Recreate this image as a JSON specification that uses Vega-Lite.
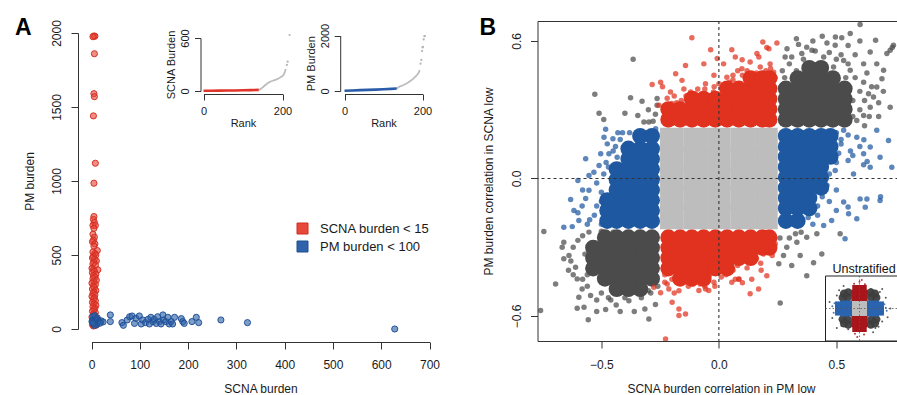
{
"$schema":"https://vega.github.io/schema/vega-lite/v6.json",
"padding":{"left":15,"top":16,"right":0,"bottom":0},
"bounds":"flush",
"spacing":94.5,
"config":{
 "font":"Liberation Sans",
 "view":{"stroke":null},
 "axis":{"grid":false,"labelFlush":false,"labelOverlap":false,"labelFontSize":12,"titleFontSize":12,"titleFontWeight":"normal","labelColor":"#1a1a1a","titleColor":"#1a1a1a","tickColor":"#333","domainColor":"#333","tickSize":7,"domainWidth":1,"tickWidth":1}
},
"datasets":{
 "burden":[
  {"scna":5,"pm":1980,"grp":"SCNA burden < 15"},{"scna":7,"pm":1978,"grp":"SCNA burden < 15"},{"scna":3,"pm":1975,"grp":"SCNA burden < 15"},{"scna":6,"pm":1860,"grp":"SCNA burden < 15"},{"scna":5,"pm":1590,"grp":"SCNA burden < 15"},{"scna":6,"pm":1570,"grp":"SCNA burden < 15"},{"scna":4,"pm":1440,"grp":"SCNA burden < 15"},{"scna":8,"pm":1120,"grp":"SCNA burden < 15"},{"scna":5,"pm":985,"grp":"SCNA burden < 15"},
  {"scna":5,"pm":760,"grp":"SCNA burden < 15"},{"scna":4,"pm":740,"grp":"SCNA burden < 15"},{"scna":6,"pm":720,"grp":"SCNA burden < 15"},{"scna":3,"pm":700,"grp":"SCNA burden < 15"},{"scna":8,"pm":700,"grp":"SCNA burden < 15"},{"scna":5,"pm":680,"grp":"SCNA burden < 15"},{"scna":3,"pm":640,"grp":"SCNA burden < 15"},{"scna":6,"pm":620,"grp":"SCNA burden < 15"},{"scna":4,"pm":600,"grp":"SCNA burden < 15"},{"scna":2,"pm":590,"grp":"SCNA burden < 15"},{"scna":7,"pm":575,"grp":"SCNA burden < 15"},{"scna":5,"pm":560,"grp":"SCNA burden < 15"},{"scna":12,"pm":530,"grp":"SCNA burden < 15"},{"scna":3,"pm":520,"grp":"SCNA burden < 15"},{"scna":7,"pm":510,"grp":"SCNA burden < 15"},{"scna":9,"pm":500,"grp":"SCNA burden < 15"},{"scna":4,"pm":490,"grp":"SCNA burden < 15"},{"scna":2,"pm":480,"grp":"SCNA burden < 15"},{"scna":6,"pm":470,"grp":"SCNA burden < 15"},{"scna":10,"pm":460,"grp":"SCNA burden < 15"},{"scna":5,"pm":450,"grp":"SCNA burden < 15"},{"scna":3,"pm":440,"grp":"SCNA burden < 15"},{"scna":8,"pm":430,"grp":"SCNA burden < 15"},{"scna":1,"pm":410,"grp":"SCNA burden < 15"},{"scna":4,"pm":400,"grp":"SCNA burden < 15"},{"scna":13,"pm":400,"grp":"SCNA burden < 15"},{"scna":6,"pm":390,"grp":"SCNA burden < 15"},{"scna":2,"pm":380,"grp":"SCNA burden < 15"},{"scna":9,"pm":370,"grp":"SCNA burden < 15"},{"scna":4,"pm":360,"grp":"SCNA burden < 15"},{"scna":7,"pm":350,"grp":"SCNA burden < 15"},{"scna":3,"pm":340,"grp":"SCNA burden < 15"},{"scna":10,"pm":330,"grp":"SCNA burden < 15"},{"scna":5,"pm":320,"grp":"SCNA burden < 15"},{"scna":1,"pm":310,"grp":"SCNA burden < 15"},{"scna":8,"pm":300,"grp":"SCNA burden < 15"},{"scna":4,"pm":290,"grp":"SCNA burden < 15"},{"scna":6,"pm":280,"grp":"SCNA burden < 15"},{"scna":2,"pm":270,"grp":"SCNA burden < 15"},{"scna":9,"pm":260,"grp":"SCNA burden < 15"},{"scna":5,"pm":250,"grp":"SCNA burden < 15"},{"scna":3,"pm":240,"grp":"SCNA burden < 15"},{"scna":7,"pm":230,"grp":"SCNA burden < 15"},{"scna":1,"pm":220,"grp":"SCNA burden < 15"},{"scna":6,"pm":210,"grp":"SCNA burden < 15"},{"scna":4,"pm":200,"grp":"SCNA burden < 15"},{"scna":8,"pm":190,"grp":"SCNA burden < 15"},{"scna":2,"pm":180,"grp":"SCNA burden < 15"},{"scna":5,"pm":170,"grp":"SCNA burden < 15"},{"scna":9,"pm":160,"grp":"SCNA burden < 15"},{"scna":3,"pm":150,"grp":"SCNA burden < 15"},{"scna":7,"pm":140,"grp":"SCNA burden < 15"},{"scna":5,"pm":130,"grp":"SCNA burden < 15"},{"scna":2,"pm":120,"grp":"SCNA burden < 15"},{"scna":8,"pm":110,"grp":"SCNA burden < 15"},{"scna":4,"pm":100,"grp":"SCNA burden < 15"},{"scna":6,"pm":90,"grp":"SCNA burden < 15"},{"scna":1,"pm":80,"grp":"SCNA burden < 15"},{"scna":10,"pm":70,"grp":"SCNA burden < 15"},{"scna":3,"pm":60,"grp":"SCNA burden < 15"},{"scna":7,"pm":50,"grp":"SCNA burden < 15"},{"scna":5,"pm":40,"grp":"SCNA burden < 15"},{"scna":2,"pm":30,"grp":"SCNA burden < 15"},{"scna":9,"pm":25,"grp":"SCNA burden < 15"},{"scna":4,"pm":20,"grp":"SCNA burden < 15"},{"scna":11,"pm":35,"grp":"SCNA burden < 15"},
  {"scna":2,"pm":60,"grp":"PM burden < 100"},{"scna":4,"pm":45,"grp":"PM burden < 100"},{"scna":6,"pm":70,"grp":"PM burden < 100"},{"scna":8,"pm":55,"grp":"PM burden < 100"},{"scna":3,"pm":85,"grp":"PM burden < 100"},{"scna":5,"pm":35,"grp":"PM burden < 100"},{"scna":7,"pm":90,"grp":"PM burden < 100"},{"scna":9,"pm":40,"grp":"PM burden < 100"},{"scna":1,"pm":50,"grp":"PM burden < 100"},{"scna":10,"pm":65,"grp":"PM burden < 100"},{"scna":12,"pm":75,"grp":"PM burden < 100"},{"scna":14,"pm":45,"grp":"PM burden < 100"},{"scna":11,"pm":30,"grp":"PM burden < 100"},{"scna":6,"pm":25,"grp":"PM burden < 100"},{"scna":3,"pm":40,"grp":"PM burden < 100"},{"scna":13,"pm":60,"grp":"PM burden < 100"},{"scna":16,"pm":50,"grp":"PM burden < 100"},{"scna":20,"pm":55,"grp":"PM burden < 100"},{"scna":24,"pm":48,"grp":"PM burden < 100"},{"scna":18,"pm":40,"grp":"PM burden < 100"},
  {"scna":39,"pm":95,"grp":"PM burden < 100"},{"scna":39,"pm":50,"grp":"PM burden < 100"},{"scna":63,"pm":43,"grp":"PM burden < 100"},{"scna":66,"pm":25,"grp":"PM burden < 100"},{"scna":74,"pm":61,"grp":"PM burden < 100"},{"scna":79,"pm":83,"grp":"PM burden < 100"},{"scna":84,"pm":88,"grp":"PM burden < 100"},{"scna":89,"pm":38,"grp":"PM burden < 100"},{"scna":92,"pm":72,"grp":"PM burden < 100"},{"scna":99,"pm":88,"grp":"PM burden < 100"},{"scna":103,"pm":34,"grp":"PM burden < 100"},{"scna":106,"pm":61,"grp":"PM burden < 100"},{"scna":112,"pm":43,"grp":"PM burden < 100"},{"scna":117,"pm":65,"grp":"PM burden < 100"},{"scna":120,"pm":34,"grp":"PM burden < 100"},{"scna":123,"pm":79,"grp":"PM burden < 100"},{"scna":127,"pm":50,"grp":"PM burden < 100"},{"scna":130,"pm":65,"grp":"PM burden < 100"},{"scna":134,"pm":38,"grp":"PM burden < 100"},{"scna":137,"pm":83,"grp":"PM burden < 100"},{"scna":141,"pm":50,"grp":"PM burden < 100"},{"scna":144,"pm":34,"grp":"PM burden < 100"},{"scna":148,"pm":95,"grp":"PM burden < 100"},{"scna":149,"pm":61,"grp":"PM burden < 100"},{"scna":154,"pm":50,"grp":"PM burden < 100"},{"scna":158,"pm":79,"grp":"PM burden < 100"},{"scna":161,"pm":34,"grp":"PM burden < 100"},{"scna":165,"pm":50,"grp":"PM burden < 100"},{"scna":168,"pm":34,"grp":"PM burden < 100"},{"scna":172,"pm":79,"grp":"PM burden < 100"},{"scna":186,"pm":70,"grp":"PM burden < 100"},{"scna":189,"pm":50,"grp":"PM burden < 100"},{"scna":192,"pm":38,"grp":"PM burden < 100"},{"scna":208,"pm":50,"grp":"PM burden < 100"},{"scna":217,"pm":79,"grp":"PM burden < 100"},{"scna":222,"pm":43,"grp":"PM burden < 100"},{"scna":268,"pm":61,"grp":"PM burden < 100"},{"scna":323,"pm":43,"grp":"PM burden < 100"},{"scna":628,"pm":0,"grp":"PM burden < 100"}
 ],
 "ins1":[
  {"rank":0,"val":2,"part":"low"},{"rank":20,"val":3,"part":"low"},{"rank":40,"val":4,"part":"low"},{"rank":60,"val":5,"part":"low"},{"rank":80,"val":6,"part":"low"},{"rank":100,"val":8,"part":"low"},{"rank":120,"val":10,"part":"low"},{"rank":140,"val":13,"part":"low"},
  {"rank":140,"val":13,"part":"high"},{"rank":143,"val":18,"part":"high"},{"rank":147,"val":30,"part":"high"},{"rank":151,"val":45,"part":"high"},{"rank":155,"val":62,"part":"high"},{"rank":160,"val":80,"part":"high"},{"rank":165,"val":95,"part":"high"},{"rank":170,"val":108,"part":"high"},{"rank":175,"val":116,"part":"high"},{"rank":180,"val":124,"part":"high"},{"rank":185,"val":131,"part":"high"},{"rank":190,"val":142,"part":"high"},{"rank":195,"val":155,"part":"high"},{"rank":200,"val":170,"part":"high"},{"rank":203,"val":185,"part":"high"},{"rank":206,"val":215,"part":"high"},{"rank":208,"val":250,"part":"high"},
  {"rank":211,"val":295,"part":"tail"},{"rank":213,"val":332,"part":"tail"},{"rank":218,"val":634,"part":"tail"}
 ],
 "ins2":[
  {"rank":0,"val":10,"part":"low"},{"rank":20,"val":20,"part":"low"},{"rank":40,"val":30,"part":"low"},{"rank":60,"val":40,"part":"low"},{"rank":80,"val":50,"part":"low"},{"rank":100,"val":62,"part":"low"},{"rank":120,"val":75,"part":"low"},{"rank":134,"val":88,"part":"low"},
  {"rank":134,"val":88,"part":"high"},{"rank":137,"val":120,"part":"high"},{"rank":141,"val":160,"part":"high"},{"rank":150,"val":207,"part":"high"},{"rank":159,"val":268,"part":"high"},{"rank":167,"val":341,"part":"high"},{"rank":176,"val":437,"part":"high"},{"rank":185,"val":560,"part":"high"},{"rank":190,"val":655,"part":"high"},{"rank":193,"val":753,"part":"high"},
  {"rank":195,"val":985,"part":"tail"},{"rank":197,"val":1120,"part":"tail"},{"rank":199,"val":1440,"part":"tail"},{"rank":200,"val":1570,"part":"tail"},{"rank":201,"val":1590,"part":"tail"},{"rank":203,"val":1860,"part":"tail"},{"rank":205,"val":1975,"part":"tail"},{"rank":206,"val":1980,"part":"tail"}
 ],
 "bcore":[
  {"x":-0.2,"y":-0.17,"c":"g"},{"x":-0.1,"y":-0.17,"c":"g"},{"x":0,"y":-0.17,"c":"g"},{"x":0.1,"y":-0.17,"c":"g"},{"x":0.2,"y":-0.17,"c":"g"},
  {"x":-0.2,"y":-0.085,"c":"g"},{"x":-0.1,"y":-0.085,"c":"g"},{"x":0,"y":-0.085,"c":"g"},{"x":0.1,"y":-0.085,"c":"g"},{"x":0.2,"y":-0.085,"c":"g"},
  {"x":-0.2,"y":0,"c":"g"},{"x":-0.1,"y":0,"c":"g"},{"x":0,"y":0,"c":"g"},{"x":0.1,"y":0,"c":"g"},{"x":0.2,"y":0,"c":"g"},
  {"x":-0.2,"y":0.085,"c":"g"},{"x":-0.1,"y":0.085,"c":"g"},{"x":0,"y":0.085,"c":"g"},{"x":0.1,"y":0.085,"c":"g"},{"x":0.2,"y":0.085,"c":"g"},
  {"x":-0.2,"y":0.17,"c":"g"},{"x":-0.1,"y":0.17,"c":"g"},{"x":0,"y":0.17,"c":"g"},{"x":0.1,"y":0.17,"c":"g"},{"x":0.2,"y":0.17,"c":"g"},
  {"x":-0.285,"y":-0.185,"c":"b"},{"x":-0.335,"y":-0.185,"c":"b"},{"x":-0.385,"y":-0.185,"c":"b"},{"x":-0.435,"y":-0.185,"c":"b"},{"x":-0.475,"y":-0.185,"c":"b"},
  {"x":-0.285,"y":-0.14,"c":"b"},{"x":-0.335,"y":-0.14,"c":"b"},{"x":-0.385,"y":-0.14,"c":"b"},{"x":-0.435,"y":-0.14,"c":"b"},{"x":-0.475,"y":-0.14,"c":"b"},
  {"x":-0.285,"y":-0.095,"c":"b"},{"x":-0.335,"y":-0.095,"c":"b"},{"x":-0.385,"y":-0.095,"c":"b"},{"x":-0.435,"y":-0.095,"c":"b"},{"x":-0.475,"y":-0.095,"c":"b"},
  {"x":-0.285,"y":-0.05,"c":"b"},{"x":-0.335,"y":-0.05,"c":"b"},{"x":-0.385,"y":-0.05,"c":"b"},{"x":-0.435,"y":-0.05,"c":"b"},
  {"x":-0.285,"y":-0.005,"c":"b"},{"x":-0.335,"y":-0.005,"c":"b"},{"x":-0.385,"y":-0.005,"c":"b"},{"x":-0.435,"y":-0.005,"c":"b"},
  {"x":-0.285,"y":0.04,"c":"b"},{"x":-0.335,"y":0.04,"c":"b"},{"x":-0.385,"y":0.04,"c":"b"},{"x":-0.435,"y":0.04,"c":"b"},
  {"x":-0.285,"y":0.085,"c":"b"},{"x":-0.335,"y":0.085,"c":"b"},{"x":-0.385,"y":0.085,"c":"b"},
  {"x":-0.285,"y":0.13,"c":"b"},{"x":-0.335,"y":0.13,"c":"b"},{"x":-0.385,"y":0.13,"c":"b"},
  {"x":-0.285,"y":0.185,"c":"b"},{"x":-0.335,"y":0.185,"c":"b"},
  {"x":0.285,"y":0.185,"c":"b"},{"x":0.335,"y":0.185,"c":"b"},{"x":0.385,"y":0.185,"c":"b"},{"x":0.435,"y":0.185,"c":"b"},{"x":0.475,"y":0.185,"c":"b"},
  {"x":0.285,"y":0.14,"c":"b"},{"x":0.335,"y":0.14,"c":"b"},{"x":0.385,"y":0.14,"c":"b"},{"x":0.435,"y":0.14,"c":"b"},{"x":0.475,"y":0.14,"c":"b"},
  {"x":0.285,"y":0.095,"c":"b"},{"x":0.335,"y":0.095,"c":"b"},{"x":0.385,"y":0.095,"c":"b"},{"x":0.435,"y":0.095,"c":"b"},{"x":0.475,"y":0.095,"c":"b"},
  {"x":0.285,"y":0.05,"c":"b"},{"x":0.335,"y":0.05,"c":"b"},{"x":0.385,"y":0.05,"c":"b"},{"x":0.435,"y":0.05,"c":"b"},
  {"x":0.285,"y":0.005,"c":"b"},{"x":0.335,"y":0.005,"c":"b"},{"x":0.385,"y":0.005,"c":"b"},{"x":0.435,"y":0.005,"c":"b"},
  {"x":0.285,"y":-0.04,"c":"b"},{"x":0.335,"y":-0.04,"c":"b"},{"x":0.385,"y":-0.04,"c":"b"},{"x":0.435,"y":-0.04,"c":"b"},
  {"x":0.285,"y":-0.085,"c":"b"},{"x":0.335,"y":-0.085,"c":"b"},{"x":0.385,"y":-0.085,"c":"b"},
  {"x":0.285,"y":-0.13,"c":"b"},{"x":0.335,"y":-0.13,"c":"b"},{"x":0.385,"y":-0.13,"c":"b"},
  {"x":0.285,"y":-0.185,"c":"b"},{"x":0.335,"y":-0.185,"c":"b"},
  {"x":-0.215,"y":0.257,"c":"r"},{"x":-0.165,"y":0.257,"c":"r"},{"x":-0.115,"y":0.257,"c":"r"},{"x":-0.065,"y":0.257,"c":"r"},{"x":-0.015,"y":0.257,"c":"r"},{"x":0.035,"y":0.257,"c":"r"},{"x":0.085,"y":0.257,"c":"r"},{"x":0.135,"y":0.257,"c":"r"},{"x":0.185,"y":0.257,"c":"r"},{"x":0.215,"y":0.257,"c":"r"},
  {"x":-0.215,"y":0.302,"c":"r"},{"x":-0.165,"y":0.302,"c":"r"},{"x":-0.115,"y":0.302,"c":"r"},{"x":-0.065,"y":0.302,"c":"r"},{"x":-0.015,"y":0.302,"c":"r"},{"x":0.035,"y":0.302,"c":"r"},{"x":0.085,"y":0.302,"c":"r"},{"x":0.135,"y":0.302,"c":"r"},{"x":0.185,"y":0.302,"c":"r"},{"x":0.215,"y":0.302,"c":"r"},
  {"x":-0.115,"y":0.347,"c":"r"},{"x":-0.065,"y":0.347,"c":"r"},{"x":-0.015,"y":0.347,"c":"r"},{"x":0.035,"y":0.347,"c":"r"},{"x":0.085,"y":0.347,"c":"r"},{"x":0.135,"y":0.347,"c":"r"},{"x":0.185,"y":0.347,"c":"r"},{"x":0.215,"y":0.347,"c":"r"},
  {"x":0.035,"y":0.392,"c":"r"},{"x":0.085,"y":0.392,"c":"r"},{"x":0.135,"y":0.392,"c":"r"},{"x":0.185,"y":0.392,"c":"r"},{"x":0.215,"y":0.392,"c":"r"},
  {"x":0.135,"y":0.437,"c":"r"},{"x":0.185,"y":0.437,"c":"r"},{"x":0.215,"y":0.437,"c":"r"},
  {"x":-0.215,"y":-0.257,"c":"r"},{"x":-0.165,"y":-0.257,"c":"r"},{"x":-0.115,"y":-0.257,"c":"r"},{"x":-0.065,"y":-0.257,"c":"r"},{"x":-0.015,"y":-0.257,"c":"r"},{"x":0.035,"y":-0.257,"c":"r"},{"x":0.085,"y":-0.257,"c":"r"},{"x":0.135,"y":-0.257,"c":"r"},{"x":0.185,"y":-0.257,"c":"r"},{"x":0.215,"y":-0.257,"c":"r"},
  {"x":-0.215,"y":-0.302,"c":"r"},{"x":-0.165,"y":-0.302,"c":"r"},{"x":-0.115,"y":-0.302,"c":"r"},{"x":-0.065,"y":-0.302,"c":"r"},{"x":-0.015,"y":-0.302,"c":"r"},{"x":0.035,"y":-0.302,"c":"r"},{"x":0.085,"y":-0.302,"c":"r"},{"x":0.135,"y":-0.302,"c":"r"},{"x":0.185,"y":-0.302,"c":"r"},{"x":0.215,"y":-0.302,"c":"r"},
  {"x":-0.215,"y":-0.347,"c":"r"},{"x":-0.165,"y":-0.347,"c":"r"},{"x":-0.115,"y":-0.347,"c":"r"},{"x":-0.065,"y":-0.347,"c":"r"},{"x":-0.015,"y":-0.347,"c":"r"},{"x":0.035,"y":-0.347,"c":"r"},{"x":0.085,"y":-0.347,"c":"r"},{"x":0.135,"y":-0.347,"c":"r"},
  {"x":-0.215,"y":-0.392,"c":"r"},{"x":-0.165,"y":-0.392,"c":"r"},{"x":-0.115,"y":-0.392,"c":"r"},{"x":-0.065,"y":-0.392,"c":"r"},{"x":-0.015,"y":-0.392,"c":"r"},{"x":0.035,"y":-0.392,"c":"r"},
  {"x":-0.165,"y":-0.437,"c":"r"},{"x":-0.115,"y":-0.437,"c":"r"},{"x":-0.065,"y":-0.437,"c":"r"},
  {"x":0.285,"y":0.257,"c":"d"},{"x":0.335,"y":0.257,"c":"d"},{"x":0.385,"y":0.257,"c":"d"},{"x":0.435,"y":0.257,"c":"d"},{"x":0.485,"y":0.257,"c":"d"},{"x":0.535,"y":0.257,"c":"d"},
  {"x":0.285,"y":0.302,"c":"d"},{"x":0.335,"y":0.302,"c":"d"},{"x":0.385,"y":0.302,"c":"d"},{"x":0.435,"y":0.302,"c":"d"},{"x":0.485,"y":0.302,"c":"d"},{"x":0.535,"y":0.302,"c":"d"},
  {"x":0.285,"y":0.347,"c":"d"},{"x":0.335,"y":0.347,"c":"d"},{"x":0.385,"y":0.347,"c":"d"},{"x":0.435,"y":0.347,"c":"d"},{"x":0.485,"y":0.347,"c":"d"},{"x":0.535,"y":0.347,"c":"d"},
  {"x":0.285,"y":0.392,"c":"d"},{"x":0.335,"y":0.392,"c":"d"},{"x":0.385,"y":0.392,"c":"d"},{"x":0.435,"y":0.392,"c":"d"},{"x":0.485,"y":0.392,"c":"d"},{"x":0.535,"y":0.392,"c":"d"},
  {"x":0.335,"y":0.437,"c":"d"},{"x":0.385,"y":0.437,"c":"d"},{"x":0.435,"y":0.437,"c":"d"},{"x":0.485,"y":0.437,"c":"d"},
  {"x":0.385,"y":0.482,"c":"d"},{"x":0.435,"y":0.482,"c":"d"},
  {"x":-0.285,"y":-0.257,"c":"d"},{"x":-0.335,"y":-0.257,"c":"d"},{"x":-0.385,"y":-0.257,"c":"d"},{"x":-0.435,"y":-0.257,"c":"d"},{"x":-0.485,"y":-0.257,"c":"d"},
  {"x":-0.285,"y":-0.302,"c":"d"},{"x":-0.335,"y":-0.302,"c":"d"},{"x":-0.385,"y":-0.302,"c":"d"},{"x":-0.435,"y":-0.302,"c":"d"},{"x":-0.485,"y":-0.302,"c":"d"},{"x":-0.535,"y":-0.302,"c":"d"},
  {"x":-0.285,"y":-0.347,"c":"d"},{"x":-0.335,"y":-0.347,"c":"d"},{"x":-0.385,"y":-0.347,"c":"d"},{"x":-0.435,"y":-0.347,"c":"d"},{"x":-0.485,"y":-0.347,"c":"d"},{"x":-0.535,"y":-0.347,"c":"d"},
  {"x":-0.285,"y":-0.392,"c":"d"},{"x":-0.335,"y":-0.392,"c":"d"},{"x":-0.385,"y":-0.392,"c":"d"},{"x":-0.435,"y":-0.392,"c":"d"},{"x":-0.485,"y":-0.392,"c":"d"},{"x":-0.535,"y":-0.392,"c":"d"},
  {"x":-0.285,"y":-0.437,"c":"d"},{"x":-0.335,"y":-0.437,"c":"d"},{"x":-0.385,"y":-0.437,"c":"d"},{"x":-0.435,"y":-0.437,"c":"d"},{"x":-0.485,"y":-0.437,"c":"d"},
  {"x":-0.335,"y":-0.482,"c":"d"},{"x":-0.385,"y":-0.482,"c":"d"},{"x":-0.435,"y":-0.482,"c":"d"}
 ],
 "bpts":[
  {"x":-0.365,"y":0.52,"c":"d"},{"x":-0.528,"y":0.367,"c":"d"},{"x":-0.51,"y":0.285,"c":"d"},{"x":-0.49,"y":0.257,"c":"d"},{"x":-0.376,"y":0.352,"c":"d"},{"x":-0.327,"y":0.337,"c":"d"},{"x":-0.4,"y":0.285,"c":"d"},{"x":-0.345,"y":0.275,"c":"d"},{"x":-0.319,"y":0.246,"c":"d"},{"x":-0.298,"y":0.246,"c":"d"},{"x":-0.263,"y":0.349,"c":"d"},{"x":-0.263,"y":0.319,"c":"d"},{"x":-0.27,"y":0.28,"c":"d"},{"x":-0.28,"y":0.25,"c":"d"},{"x":-0.3,"y":0.3,"c":"d"},
  {"x":-0.115,"y":0.614,"c":"r"},{"x":-0.035,"y":0.562,"c":"r"},{"x":-0.064,"y":0.5,"c":"r"},{"x":-0.142,"y":0.493,"c":"r"},{"x":-0.184,"y":0.457,"c":"r"},{"x":-0.157,"y":0.428,"c":"r"},{"x":-0.284,"y":0.41,"c":"r"},{"x":-0.248,"y":0.42,"c":"r"},{"x":-0.24,"y":0.4,"c":"r"},{"x":-0.206,"y":0.377,"c":"r"},{"x":-0.2,"y":0.327,"c":"r"},{"x":-0.149,"y":0.39,"c":"r"},{"x":-0.12,"y":0.377,"c":"r"},{"x":-0.09,"y":0.39,"c":"r"},{"x":-0.057,"y":0.413,"c":"r"},{"x":-0.021,"y":0.45,"c":"r"},{"x":-0.023,"y":0.377,"c":"r"},{"x":-0.1,"y":0.34,"c":"r"},{"x":-0.17,"y":0.297,"c":"r"},{"x":-0.255,"y":0.319,"c":"r"},{"x":-0.232,"y":0.31,"c":"r"},{"x":0.055,"y":0.562,"c":"r"},{"x":0.187,"y":0.595,"c":"r"},{"x":0.247,"y":0.591,"c":"r"},{"x":0.204,"y":0.571,"c":"r"},{"x":0.02,"y":0.5,"c":"r"},{"x":0.07,"y":0.53,"c":"r"},{"x":0.133,"y":0.508,"c":"r"},{"x":0.098,"y":0.479,"c":"r"},{"x":0.176,"y":0.486,"c":"r"},{"x":0.218,"y":0.5,"c":"r"},{"x":0.233,"y":0.464,"c":"r"},{"x":0.162,"y":0.545,"c":"r"},{"x":0.034,"y":0.442,"c":"r"},{"x":0.0,"y":0.413,"c":"r"},{"x":-0.007,"y":0.523,"c":"r"},{"x":0.099,"y":0.518,"c":"r"},{"x":0.17,"y":0.53,"c":"r"},{"x":0.213,"y":0.566,"c":"r"},{"x":0.06,"y":0.45,"c":"r"},{"x":0.045,"y":0.42,"c":"r"},{"x":-0.04,"y":0.36,"c":"r"},{"x":-0.19,"y":0.36,"c":"r"},{"x":-0.16,"y":0.34,"c":"r"},
  {"x":-0.22,"y":0.35,"c":"r"},{"x":-0.18,"y":0.33,"c":"r"},{"x":-0.14,"y":0.36,"c":"r"},{"x":-0.1,"y":0.37,"c":"r"},{"x":-0.06,"y":0.39,"c":"r"},{"x":-0.02,"y":0.4,"c":"r"},{"x":0.02,"y":0.41,"c":"r"},{"x":0.06,"y":0.43,"c":"r"},{"x":0.1,"y":0.45,"c":"r"},{"x":0.12,"y":0.47,"c":"r"},{"x":0.16,"y":0.46,"c":"r"},{"x":0.2,"y":0.47,"c":"r"},{"x":0.22,"y":0.48,"c":"r"},{"x":0.24,"y":0.44,"c":"r"},{"x":0.08,"y":0.47,"c":"r"},
  {"x":-0.482,"y":0.215,"c":"b"},{"x":-0.489,"y":0.18,"c":"b"},{"x":-0.451,"y":0.173,"c":"b"},{"x":-0.475,"y":0.151,"c":"b"},{"x":-0.567,"y":0.086,"c":"b"},{"x":-0.503,"y":0.108,"c":"b"},{"x":-0.468,"y":0.108,"c":"b"},{"x":-0.51,"y":0.057,"c":"b"},{"x":-0.553,"y":0.013,"c":"b"},{"x":-0.532,"y":0.027,"c":"b"},{"x":-0.433,"y":0.093,"c":"b"},{"x":-0.394,"y":0.144,"c":"b"},{"x":-0.354,"y":0.188,"c":"b"},{"x":-0.305,"y":0.195,"c":"b"},{"x":-0.269,"y":0.217,"c":"b"},{"x":-0.42,"y":0.05,"c":"b"},{"x":-0.631,"y":-0.092,"c":"b"},{"x":-0.66,"y":-0.213,"c":"b"},{"x":-0.624,"y":-0.21,"c":"b"},{"x":-0.596,"y":-0.183,"c":"b"},{"x":-0.617,"y":-0.14,"c":"b"},{"x":-0.582,"y":-0.12,"c":"b"},{"x":-0.56,"y":-0.2,"c":"b"},{"x":-0.6,"y":-0.009,"c":"b"},{"x":-0.553,"y":-0.051,"c":"b"},{"x":-0.567,"y":-0.087,"c":"b"},{"x":-0.52,"y":-0.02,"c":"b"},{"x":-0.5,"y":-0.06,"c":"b"},{"x":-0.53,"y":-0.16,"c":"b"},{"x":-0.44,"y":0.14,"c":"b"},{"x":-0.41,"y":0.2,"c":"b"},
  {"x":-0.5,"y":-0.2,"c":"b"},{"x":-0.52,"y":-0.12,"c":"b"},{"x":-0.5,"y":-0.1,"c":"b"},{"x":-0.49,"y":0.02,"c":"b"},{"x":-0.47,"y":0.05,"c":"b"},{"x":-0.45,"y":0.12,"c":"b"},{"x":-0.42,"y":0.17,"c":"b"},{"x":-0.38,"y":0.2,"c":"b"},{"x":-0.43,"y":0.2,"c":"b"},{"x":-0.48,"y":0.07,"c":"b"},{"x":-0.55,"y":-0.18,"c":"b"},{"x":-0.58,"y":-0.05,"c":"b"},{"x":-0.6,"y":-0.15,"c":"b"},
  {"x":0.672,"y":0.21,"c":"b"},{"x":0.722,"y":0.166,"c":"b"},{"x":0.736,"y":0.049,"c":"b"},{"x":0.686,"y":0.093,"c":"b"},{"x":0.644,"y":0.049,"c":"b"},{"x":0.644,"y":0.137,"c":"b"},{"x":0.616,"y":0.108,"c":"b"},{"x":0.587,"y":0.18,"c":"b"},{"x":0.616,"y":0.06,"c":"b"},{"x":0.573,"y":0.02,"c":"b"},{"x":0.55,"y":0.078,"c":"b"},{"x":0.531,"y":0.21,"c":"b"},{"x":0.495,"y":0.035,"c":"b"},{"x":0.686,"y":-0.096,"c":"b"},{"x":0.601,"y":-0.089,"c":"b"},{"x":0.623,"y":-0.125,"c":"b"},{"x":0.587,"y":-0.176,"c":"b"},{"x":0.552,"y":-0.154,"c":"b"},{"x":0.531,"y":-0.103,"c":"b"},{"x":0.537,"y":-0.263,"c":"b"},{"x":0.48,"y":-0.183,"c":"b"},{"x":0.5,"y":-0.14,"c":"b"},{"x":0.446,"y":-0.205,"c":"b"},{"x":0.42,"y":-0.16,"c":"b"},{"x":0.55,"y":-0.124,"c":"b"},{"x":0.63,"y":-0.09,"c":"b"},{"x":0.688,"y":-0.08,"c":"b"},{"x":0.631,"y":0.074,"c":"b"},{"x":0.617,"y":0.169,"c":"b"},{"x":0.52,"y":0.15,"c":"b"},{"x":0.5,"y":-0.05,"c":"b"},{"x":0.47,"y":-0.1,"c":"b"},{"x":0.56,"y":0.12,"c":"b"},
  {"x":0.5,"y":0.2,"c":"b"},{"x":0.52,"y":0.17,"c":"b"},{"x":0.51,"y":0.11,"c":"b"},{"x":0.5,"y":0.07,"c":"b"},{"x":0.47,"y":0.02,"c":"b"},{"x":0.46,"y":-0.03,"c":"b"},{"x":0.44,"y":-0.08,"c":"b"},{"x":0.42,"y":-0.12,"c":"b"},{"x":0.38,"y":-0.17,"c":"b"},{"x":0.4,"y":-0.2,"c":"b"},{"x":0.55,"y":0.19,"c":"b"},{"x":0.57,"y":0.1,"c":"b"},{"x":0.6,"y":0.14,"c":"b"},
  {"x":0.601,"y":0.672,"c":"d"},{"x":0.559,"y":0.632,"c":"d"},{"x":0.523,"y":0.614,"c":"d"},{"x":0.46,"y":0.591,"c":"d"},{"x":0.495,"y":0.581,"c":"d"},{"x":0.339,"y":0.585,"c":"d"},{"x":0.374,"y":0.573,"c":"d"},{"x":0.41,"y":0.556,"c":"d"},{"x":0.29,"y":0.566,"c":"d"},{"x":0.282,"y":0.53,"c":"d"},{"x":0.353,"y":0.545,"c":"d"},{"x":0.729,"y":0.559,"c":"d"},{"x":0.715,"y":0.545,"c":"d"},{"x":0.743,"y":0.581,"c":"d"},{"x":0.644,"y":0.552,"c":"d"},{"x":0.672,"y":0.5,"c":"d"},{"x":0.701,"y":0.472,"c":"d"},{"x":0.694,"y":0.435,"c":"d"},{"x":0.672,"y":0.399,"c":"d"},{"x":0.658,"y":0.355,"c":"d"},{"x":0.644,"y":0.311,"c":"d"},{"x":0.616,"y":0.275,"c":"d"},{"x":0.587,"y":0.253,"c":"d"},{"x":0.616,"y":0.42,"c":"d"},{"x":0.559,"y":0.472,"c":"d"},{"x":0.531,"y":0.515,"c":"d"},{"x":0.488,"y":0.486,"c":"d"},{"x":0.446,"y":0.53,"c":"d"},{"x":0.616,"y":0.5,"c":"d"},{"x":0.637,"y":0.37,"c":"d"},{"x":0.729,"y":0.311,"c":"d"},{"x":0.667,"y":0.603,"c":"d"},{"x":0.738,"y":0.571,"c":"d"},{"x":0.396,"y":0.559,"c":"d"},{"x":0.496,"y":0.617,"c":"d"},{"x":0.58,"y":0.54,"c":"d"},{"x":0.62,"y":0.23,"c":"d"},{"x":0.68,"y":0.27,"c":"d"},{"x":0.3,"y":0.5,"c":"d"},{"x":0.33,"y":0.47,"c":"d"},
  {"x":0.6,"y":0.3,"c":"d"},{"x":0.57,"y":0.34,"c":"d"},{"x":0.6,"y":0.38,"c":"d"},{"x":0.58,"y":0.44,"c":"d"},{"x":0.63,"y":0.46,"c":"d"},{"x":0.55,"y":0.5,"c":"d"},{"x":0.52,"y":0.54,"c":"d"},{"x":0.47,"y":0.55,"c":"d"},{"x":0.43,"y":0.5,"c":"d"},{"x":0.36,"y":0.52,"c":"d"},{"x":0.31,"y":0.53,"c":"d"},{"x":0.4,"y":0.6,"c":"d"},{"x":0.44,"y":0.62,"c":"d"},{"x":0.33,"y":0.61,"c":"d"},{"x":0.65,"y":0.4,"c":"d"},{"x":0.68,"y":0.33,"c":"d"},{"x":0.7,"y":0.38,"c":"d"},{"x":0.64,"y":0.27,"c":"d"},{"x":0.57,"y":0.27,"c":"d"},{"x":0.62,"y":0.34,"c":"d"},{"x":0.27,"y":0.47,"c":"d"},{"x":0.28,"y":0.44,"c":"d"},{"x":0.55,"y":0.58,"c":"d"},{"x":0.6,"y":0.6,"c":"d"},{"x":0.54,"y":0.44,"c":"d"},{"x":0.5,"y":0.52,"c":"d"},
  {"x":-0.745,"y":-0.231,"c":"d"},{"x":-0.759,"y":-0.576,"c":"d"},{"x":-0.695,"y":-0.46,"c":"d"},{"x":-0.66,"y":-0.278,"c":"d"},{"x":-0.667,"y":-0.3,"c":"d"},{"x":-0.638,"y":-0.336,"c":"d"},{"x":-0.61,"y":-0.387,"c":"d"},{"x":-0.603,"y":-0.438,"c":"d"},{"x":-0.582,"y":-0.482,"c":"d"},{"x":-0.596,"y":-0.518,"c":"d"},{"x":-0.546,"y":-0.511,"c":"d"},{"x":-0.603,"y":-0.566,"c":"d"},{"x":-0.574,"y":-0.562,"c":"d"},{"x":-0.556,"y":-0.616,"c":"d"},{"x":-0.482,"y":-0.572,"c":"d"},{"x":-0.437,"y":-0.552,"c":"d"},{"x":-0.42,"y":-0.5,"c":"d"},{"x":-0.383,"y":-0.533,"c":"d"},{"x":-0.354,"y":-0.496,"c":"d"},{"x":-0.315,"y":-0.569,"c":"d"},{"x":-0.298,"y":-0.613,"c":"d"},{"x":-0.3,"y":-0.49,"c":"d"},{"x":-0.277,"y":-0.453,"c":"d"},{"x":-0.62,"y":-0.42,"c":"d"},{"x":-0.553,"y":-0.234,"c":"d"},{"x":-0.58,"y":-0.25,"c":"d"},{"x":-0.52,"y":-0.53,"c":"d"},{"x":-0.47,"y":-0.52,"c":"d"},{"x":-0.63,"y":-0.36,"c":"d"},
  {"x":-0.6,"y":-0.27,"c":"d"},{"x":-0.62,"y":-0.3,"c":"d"},{"x":-0.58,"y":-0.44,"c":"d"},{"x":-0.56,"y":-0.47,"c":"d"},{"x":-0.5,"y":-0.5,"c":"d"},{"x":-0.46,"y":-0.53,"c":"d"},{"x":-0.4,"y":-0.52,"c":"d"},{"x":-0.33,"y":-0.52,"c":"d"},{"x":-0.29,"y":-0.5,"c":"d"},{"x":-0.26,"y":-0.47,"c":"d"},{"x":-0.64,"y":-0.4,"c":"d"},{"x":-0.66,"y":-0.35,"c":"d"},{"x":-0.52,"y":-0.58,"c":"d"},{"x":-0.42,"y":-0.58,"c":"d"},{"x":-0.36,"y":-0.58,"c":"d"},{"x":-0.27,"y":-0.55,"c":"d"},{"x":-0.5,"y":-0.23,"c":"d"},{"x":-0.45,"y":-0.235,"c":"d"},{"x":-0.56,"y":-0.42,"c":"d"},{"x":-0.57,"y":-0.33,"c":"d"},
  {"x":-0.227,"y":-0.7,"c":"r"},{"x":-0.17,"y":-0.598,"c":"r"},{"x":-0.142,"y":-0.591,"c":"r"},{"x":-0.199,"y":-0.54,"c":"r"},{"x":-0.248,"y":-0.499,"c":"r"},{"x":-0.277,"y":-0.475,"c":"r"},{"x":-0.213,"y":-0.482,"c":"r"},{"x":-0.17,"y":-0.49,"c":"r"},{"x":-0.085,"y":-0.489,"c":"r"},{"x":-0.043,"y":-0.489,"c":"r"},{"x":-0.021,"y":-0.453,"c":"r"},{"x":-0.06,"y":-0.47,"c":"r"},{"x":-0.11,"y":-0.46,"c":"r"},{"x":-0.23,"y":-0.453,"c":"r"},{"x":0.133,"y":-0.503,"c":"r"},{"x":0.169,"y":-0.482,"c":"r"},{"x":0.14,"y":-0.44,"c":"r"},{"x":0.204,"y":-0.424,"c":"r"},{"x":0.178,"y":-0.37,"c":"r"},{"x":0.1,"y":-0.455,"c":"r"},{"x":0.07,"y":-0.44,"c":"r"},{"x":0.055,"y":-0.453,"c":"r"},{"x":0.085,"y":-0.44,"c":"r"},{"x":0.03,"y":-0.42,"c":"r"},{"x":0.227,"y":-0.336,"c":"r"},{"x":0.24,"y":-0.285,"c":"r"},{"x":-0.17,"y":-0.569,"c":"r"},{"x":-0.057,"y":-0.482,"c":"r"},{"x":-0.017,"y":-0.47,"c":"r"},{"x":0.085,"y":-0.438,"c":"r"},{"x":0.06,"y":-0.4,"c":"r"},{"x":0.12,"y":-0.39,"c":"r"},{"x":0.19,"y":-0.33,"c":"r"},{"x":0.01,"y":-0.43,"c":"r"},
  {"x":-0.23,"y":-0.42,"c":"r"},{"x":-0.2,"y":-0.44,"c":"r"},{"x":-0.22,"y":-0.46,"c":"r"},{"x":-0.04,"y":-0.42,"c":"r"},{"x":0.0,"y":-0.4,"c":"r"},{"x":0.05,"y":-0.38,"c":"r"},{"x":0.08,"y":-0.38,"c":"r"},{"x":0.1,"y":-0.36,"c":"r"},{"x":0.16,"y":-0.35,"c":"r"},{"x":0.2,"y":-0.3,"c":"r"},{"x":0.22,"y":-0.32,"c":"r"},{"x":0.18,"y":-0.4,"c":"r"},{"x":-0.13,"y":-0.47,"c":"r"},{"x":-0.08,"y":-0.46,"c":"r"},{"x":-0.19,"y":-0.5,"c":"r"},
  {"x":0.261,"y":-0.543,"c":"d"},{"x":0.374,"y":-0.424,"c":"d"},{"x":0.403,"y":-0.368,"c":"d"},{"x":0.438,"y":-0.329,"c":"d"},{"x":0.346,"y":-0.336,"c":"d"},{"x":0.31,"y":-0.38,"c":"d"},{"x":0.255,"y":-0.372,"c":"d"},{"x":0.275,"y":-0.336,"c":"d"},{"x":0.289,"y":-0.3,"c":"d"},{"x":0.332,"y":-0.278,"c":"d"},{"x":0.374,"y":-0.256,"c":"d"},{"x":0.417,"y":-0.241,"c":"d"},{"x":0.516,"y":-0.241,"c":"d"},{"x":0.35,"y":-0.235,"c":"d"},{"x":0.3,"y":-0.26,"c":"d"},{"x":0.26,"y":-0.26,"c":"d"},{"x":0.326,"y":-0.241,"c":"d"}
 ],
 "uins":[
  {"x":-0.23,"y":-0.11,"k":"b"},{"x":-0.23,"y":0,"k":"b"},{"x":-0.23,"y":0.11,"k":"b"},{"x":-0.36,"y":-0.11,"k":"b"},{"x":-0.36,"y":0,"k":"b"},{"x":-0.36,"y":0.11,"k":"b"},{"x":-0.47,"y":-0.09,"k":"b"},{"x":-0.47,"y":0,"k":"b"},{"x":-0.47,"y":0.09,"k":"b"},
  {"x":0.23,"y":-0.11,"k":"b"},{"x":0.23,"y":0,"k":"b"},{"x":0.23,"y":0.11,"k":"b"},{"x":0.36,"y":-0.11,"k":"b"},{"x":0.36,"y":0,"k":"b"},{"x":0.36,"y":0.11,"k":"b"},{"x":0.47,"y":-0.09,"k":"b"},{"x":0.47,"y":0,"k":"b"},{"x":0.47,"y":0.09,"k":"b"},
  {"x":-0.11,"y":0.24,"k":"r"},{"x":0,"y":0.24,"k":"r"},{"x":0.11,"y":0.24,"k":"r"},{"x":-0.11,"y":0.36,"k":"r"},{"x":0,"y":0.36,"k":"r"},{"x":0.11,"y":0.36,"k":"r"},{"x":-0.09,"y":0.47,"k":"r"},{"x":0,"y":0.47,"k":"r"},{"x":0.09,"y":0.47,"k":"r"},
  {"x":-0.11,"y":-0.24,"k":"r"},{"x":0,"y":-0.24,"k":"r"},{"x":0.11,"y":-0.24,"k":"r"},{"x":-0.11,"y":-0.36,"k":"r"},{"x":0,"y":-0.36,"k":"r"},{"x":0.11,"y":-0.36,"k":"r"},{"x":-0.09,"y":-0.47,"k":"r"},{"x":0,"y":-0.47,"k":"r"},{"x":0.09,"y":-0.47,"k":"r"},
  {"x":0.26,"y":0.26,"k":"d"},{"x":-0.26,"y":0.26,"k":"d"},{"x":0.26,"y":-0.26,"k":"d"},{"x":-0.26,"y":-0.26,"k":"d"},{"x":0.37,"y":0.25,"k":"d"},{"x":-0.37,"y":0.25,"k":"d"},{"x":0.37,"y":-0.25,"k":"d"},{"x":-0.37,"y":-0.25,"k":"d"},{"x":0.25,"y":0.37,"k":"d"},{"x":-0.25,"y":0.37,"k":"d"},{"x":0.25,"y":-0.37,"k":"d"},{"x":-0.25,"y":-0.37,"k":"d"},{"x":0.34,"y":0.34,"k":"d"},{"x":-0.34,"y":0.34,"k":"d"},{"x":0.34,"y":-0.34,"k":"d"},{"x":-0.34,"y":-0.34,"k":"d"},
  {"x":0,"y":0,"k":"g"}
 ],
 "unoise":[
  {"x":0.55,"y":0.1,"k":"b"},{"x":0.6,"y":-0.05,"k":"b"},{"x":0.58,"y":0.02,"k":"b"},{"x":-0.6,"y":0.05,"k":"b"},{"x":-0.57,"y":-0.1,"k":"b"},{"x":-0.55,"y":0.12,"k":"b"},
  {"x":0.5,"y":-0.3,"k":"d"},{"x":0.35,"y":-0.45,"k":"d"},{"x":-0.4,"y":-0.4,"k":"d"},{"x":-0.5,"y":0.3,"k":"d"},{"x":0.45,"y":0.38,"k":"d"},{"x":0.5,"y":0.45,"k":"d"},{"x":-0.5,"y":-0.45,"k":"d"},{"x":0.3,"y":-0.55,"k":"d"},{"x":-0.35,"y":0.52,"k":"d"},{"x":0.58,"y":0.25,"k":"d"},{"x":0.62,"y":-0.2,"k":"d"},{"x":-0.6,"y":-0.22,"k":"d"},{"x":-0.45,"y":0.42,"k":"d"},{"x":0.42,"y":-0.42,"k":"d"},{"x":0.25,"y":0.45,"k":"d"},{"x":-0.25,"y":-0.48,"k":"d"},{"x":0.68,"y":0.0,"k":"d"},{"x":-0.66,"y":0.15,"k":"d"},
  {"x":0.1,"y":-0.6,"k":"r"},{"x":-0.1,"y":-0.58,"k":"r"},{"x":0,"y":0.62,"k":"r"},{"x":0.05,"y":0.66,"k":"r"},{"x":-0.05,"y":-0.66,"k":"r"},{"x":0.12,"y":0.56,"k":"r"},{"x":-0.12,"y":0.57,"k":"r"}
 ]
},
"hconcat":[
 {
  "width":365,"height":320,
  "title":{"text":"A","anchor":"start","frame":"group","fontSize":23,"fontWeight":"bold","color":"#000","dx":-63,"dy":20,"offset":0},
  "resolve":{"scale":{"x":"independent","y":"independent"}},
  "layer":[
   {"data":{"name":"burden"},
    "mark":{"type":"point","filled":true,"size":38,"fillOpacity":0.62,"strokeOpacity":0.95,"strokeWidth":1},
    "encoding":{
     "x":{"field":"scna","type":"quantitative","scale":{"domain":[0,700],"range":[13.5,351.5],"nice":false,"zero":false},"axis":{"values":[0,100,200,300,400,500,600,700],"format":"d","title":"SCNA burden","offset":1,"labelPadding":10,"titlePadding":13}},
     "y":{"field":"pm","type":"quantitative","scale":{"domain":[0,2000],"range":[308,12],"nice":false,"zero":false},"axis":{"values":[0,500,1000,1500,2000],"format":"d","title":"PM burden","labelAngle":270,"labelAlign":"center","labelBaseline":"alphabetic","labelPadding":11,"titlePadding":14}},
     "fill":{"field":"grp","type":"nominal","scale":{"domain":["SCNA burden < 15","PM burden < 100"],"range":["#E6483A","#2F62AA"]},"legend":{"title":null,"orient":"none","legendX":218,"legendY":201,"symbolType":"square","symbolSize":121,"symbolStrokeWidth":1,"labelFontSize":13,"labelColor":"#1a1a1a","labelOffset":11,"rowPadding":3,"padding":0}},
     "stroke":{"field":"grp","type":"nominal","scale":{"domain":["SCNA burden < 15","PM burden < 100"],"range":["#D22C20","#1E4E96"]},"legend":{"title":null,"orient":"none","legendX":218,"legendY":201,"symbolType":"square","symbolSize":121,"symbolStrokeWidth":1,"labelFontSize":13,"labelColor":"#1a1a1a","labelOffset":11,"rowPadding":3,"padding":0}}
    }},
   {"data":{"name":"ins1"},
    "encoding":{
     "x":{"field":"rank","type":"quantitative","scale":{"domain":[0,200],"range":[125.5,204.5],"nice":false,"zero":false},"axis":{"orient":"bottom","offset":-247,"values":[0,200],"format":"d","title":"Rank","tickSize":6,"labelFontSize":11,"titleFontSize":11,"labelPadding":5,"titlePadding":1}},
     "y":{"field":"val","type":"quantitative","scale":{"domain":[0,600],"range":[70,17],"nice":false,"zero":false},"axis":{"orient":"left","offset":-122.5,"values":[0,600],"format":"d","title":"SCNA Burden","tickSize":6,"labelFontSize":11,"titleFontSize":11,"labelAngle":270,"labelAlign":"center","labelBaseline":"alphabetic","labelPadding":6,"titlePadding":3}}
    },
    "layer":[
     {"transform":[{"filter":"datum.part == 'high'"}],"mark":{"type":"line","color":"#BDBDBD","strokeWidth":1.8}},
     {"transform":[{"filter":"datum.part == 'low'"}],"mark":{"type":"line","color":"#E0352A","strokeWidth":2.6}},
     {"transform":[{"filter":"datum.part == 'tail'"}],"mark":{"type":"circle","size":5,"color":"#B5B5B5","opacity":1}}
    ]},
   {"data":{"name":"ins2"},
    "encoding":{
     "x":{"field":"rank","type":"quantitative","scale":{"domain":[0,200],"range":[266.5,344.5],"nice":false,"zero":false},"axis":{"orient":"bottom","offset":-247,"values":[0,200],"format":"d","title":"Rank","tickSize":6,"labelFontSize":11,"titleFontSize":11,"labelPadding":5,"titlePadding":1}},
     "y":{"field":"val","type":"quantitative","scale":{"domain":[0,2000],"range":[70,14.5],"nice":false,"zero":false},"axis":{"orient":"left","offset":-262.2,"values":[0,2000],"format":"d","title":"PM Burden","tickSize":6,"labelFontSize":11,"titleFontSize":11,"labelAngle":270,"labelAlign":"center","labelBaseline":"alphabetic","labelPadding":6,"titlePadding":3}}
    },
    "layer":[
     {"transform":[{"filter":"datum.part == 'high'"}],"mark":{"type":"line","color":"#BDBDBD","strokeWidth":1.8}},
     {"transform":[{"filter":"datum.part == 'low'"}],"mark":{"type":"line","color":"#2A5CA8","strokeWidth":2.6}},
     {"transform":[{"filter":"datum.part == 'tail'"}],"mark":{"type":"circle","size":5,"color":"#B5B5B5","opacity":1}}
    ]}
  ]
 },
 {
  "width":367,"height":320,
  "view":{"stroke":"#333","strokeWidth":1},
  "title":{"text":"B","anchor":"start","frame":"group","fontSize":23,"fontWeight":"bold","color":"#000","dx":-58,"dy":20,"offset":0},
  "resolve":{"scale":{"x":"independent","y":"independent","color":"independent"}},
  "layer":[
   {"layer":[
     {"data":{"name":"bcore"},"transform":[{"filter":"datum.c != 'g'"}],
      "mark":{"type":"circle","size":260,"opacity":1,"clip":true},
      "encoding":{
       "x":{"field":"x","type":"quantitative","scale":{"domain":[-0.772,0.79],"nice":false,"zero":false},"axis":{"values":[-0.5,0,0.5],"format":".1f","title":"SCNA burden correlation in PM low","domain":false,"labelPadding":11,"titlePadding":13}},
       "y":{"field":"y","type":"quantitative","scale":{"domain":[-0.709,0.687],"nice":false,"zero":false},"axis":{"values":[-0.6,0,0.6],"format":".1f","title":"PM burden correlation in SCNA low","domain":false,"labelAngle":270,"labelAlign":"center","labelBaseline":"alphabetic","labelPadding":10,"titlePadding":15}},
       "color":{"field":"c","type":"nominal","scale":{"domain":["b","r","d","g"],"range":["#1E58A0","#E0321F","#4B4B4B","#BDBDBD"]},"legend":null}
      }},
     {"data":{"name":"bpts"},
      "mark":{"type":"circle","size":30,"opacity":0.72,"clip":true},
      "encoding":{
       "x":{"field":"x","type":"quantitative"},
       "y":{"field":"y","type":"quantitative"},
       "color":{"field":"c","type":"nominal","legend":null}
      }},
     {"data":{"name":"bcore"},"transform":[{"filter":"datum.c == 'g'"}],
      "mark":{"type":"square","size":560,"opacity":1,"clip":true},
      "encoding":{
       "x":{"field":"x","type":"quantitative"},
       "y":{"field":"y","type":"quantitative"},
       "color":{"field":"c","type":"nominal","legend":null}
      }},
     {"data":{"values":[{}]},"mark":{"type":"rule","color":"#333","strokeDash":[3,3],"strokeWidth":1.1},"encoding":{"x":{"datum":0}}},
     {"data":{"values":[{}]},"mark":{"type":"rule","color":"#333","strokeDash":[3,3],"strokeWidth":1.1},"encoding":{"y":{"datum":0}}}
   ]},
   {"layer":[
     {"data":{"values":[{}]},"mark":{"type":"rect","fill":"white","stroke":"#222","strokeWidth":1},
      "encoding":{
       "x":{"datum":-0.75,"type":"quantitative","scale":{"domain":[-0.75,0.75],"range":[288,356],"nice":false,"zero":false},"axis":null},
       "x2":{"datum":0.95},
       "y":{"datum":0.75,"type":"quantitative","scale":{"domain":[-0.75,0.75],"range":[320,255],"nice":false,"zero":false},"axis":null},
       "y2":{"datum":-0.75}
      }},
     {"data":{"name":"unoise"},"mark":{"type":"circle","size":4,"opacity":0.85},
      "encoding":{
       "x":{"field":"x","type":"quantitative","scale":{"domain":[-0.75,0.75],"range":[288,356],"nice":false,"zero":false},"axis":null},
       "y":{"field":"y","type":"quantitative","scale":{"domain":[-0.75,0.75],"range":[320,255],"nice":false,"zero":false},"axis":null},
       "color":{"field":"k","type":"nominal","scale":{"domain":["b","r","d","g"],"range":["#2A63AE","#A8161B","#3E3E3E","#BDBDBD"]},"legend":null}
      }},
     {"data":{"name":"uins"},"transform":[{"filter":"datum.k == 'd'"}],"mark":{"type":"circle","size":70,"opacity":0.95},
      "encoding":{
       "x":{"field":"x","type":"quantitative","scale":{"domain":[-0.75,0.75],"range":[288,356],"nice":false,"zero":false},"axis":null},
       "y":{"field":"y","type":"quantitative","scale":{"domain":[-0.75,0.75],"range":[320,255],"nice":false,"zero":false},"axis":null},
       "color":{"field":"k","type":"nominal","legend":null}
      }},
     {"data":{"name":"uins"},"transform":[{"filter":"datum.k == 'b' || datum.k == 'r'"}],"mark":{"type":"square","size":40,"opacity":1},
      "encoding":{
       "x":{"field":"x","type":"quantitative","scale":{"domain":[-0.75,0.75],"range":[288,356],"nice":false,"zero":false},"axis":null},
       "y":{"field":"y","type":"quantitative","scale":{"domain":[-0.75,0.75],"range":[320,255],"nice":false,"zero":false},"axis":null},
       "color":{"field":"k","type":"nominal","legend":null}
      }},
     {"data":{"name":"uins"},"transform":[{"filter":"datum.k == 'g'"}],"mark":{"type":"square","size":225,"opacity":1},
      "encoding":{
       "x":{"field":"x","type":"quantitative","scale":{"domain":[-0.75,0.75],"range":[288,356],"nice":false,"zero":false},"axis":null},
       "y":{"field":"y","type":"quantitative","scale":{"domain":[-0.75,0.75],"range":[320,255],"nice":false,"zero":false},"axis":null},
       "color":{"field":"k","type":"nominal","legend":null}
      }},
     {"data":{"values":[{}]},"mark":{"type":"rule","color":"#555","strokeDash":[1.5,2],"strokeWidth":0.8},
      "encoding":{
       "x":{"datum":0,"type":"quantitative","scale":{"domain":[-0.75,0.75],"range":[288,356],"nice":false,"zero":false},"axis":null},
       "y":{"datum":0.75,"type":"quantitative","scale":{"domain":[-0.75,0.75],"range":[320,255],"nice":false,"zero":false},"axis":null},
       "y2":{"datum":-0.75}
      }},
     {"data":{"values":[{}]},"mark":{"type":"rule","color":"#555","strokeDash":[1.5,2],"strokeWidth":0.8},
      "encoding":{
       "x":{"datum":-0.75,"type":"quantitative","scale":{"domain":[-0.75,0.75],"range":[288,356],"nice":false,"zero":false},"axis":null},
       "x2":{"datum":0.95},
       "y":{"datum":0,"type":"quantitative","scale":{"domain":[-0.75,0.75],"range":[320,255],"nice":false,"zero":false},"axis":null}
      }},
     {"data":{"values":[{}]},"mark":{"type":"text","text":"Unstratified","align":"left","baseline":"alphabetic","dx":7,"dy":-3,"fontSize":12.5,"color":"#111"},
      "encoding":{
       "x":{"datum":-0.75,"type":"quantitative","scale":{"domain":[-0.75,0.75],"range":[288,356],"nice":false,"zero":false},"axis":null},
       "y":{"datum":0.75,"type":"quantitative","scale":{"domain":[-0.75,0.75],"range":[320,255],"nice":false,"zero":false},"axis":null}
      }}
   ]}
  ]
 }
]
}
